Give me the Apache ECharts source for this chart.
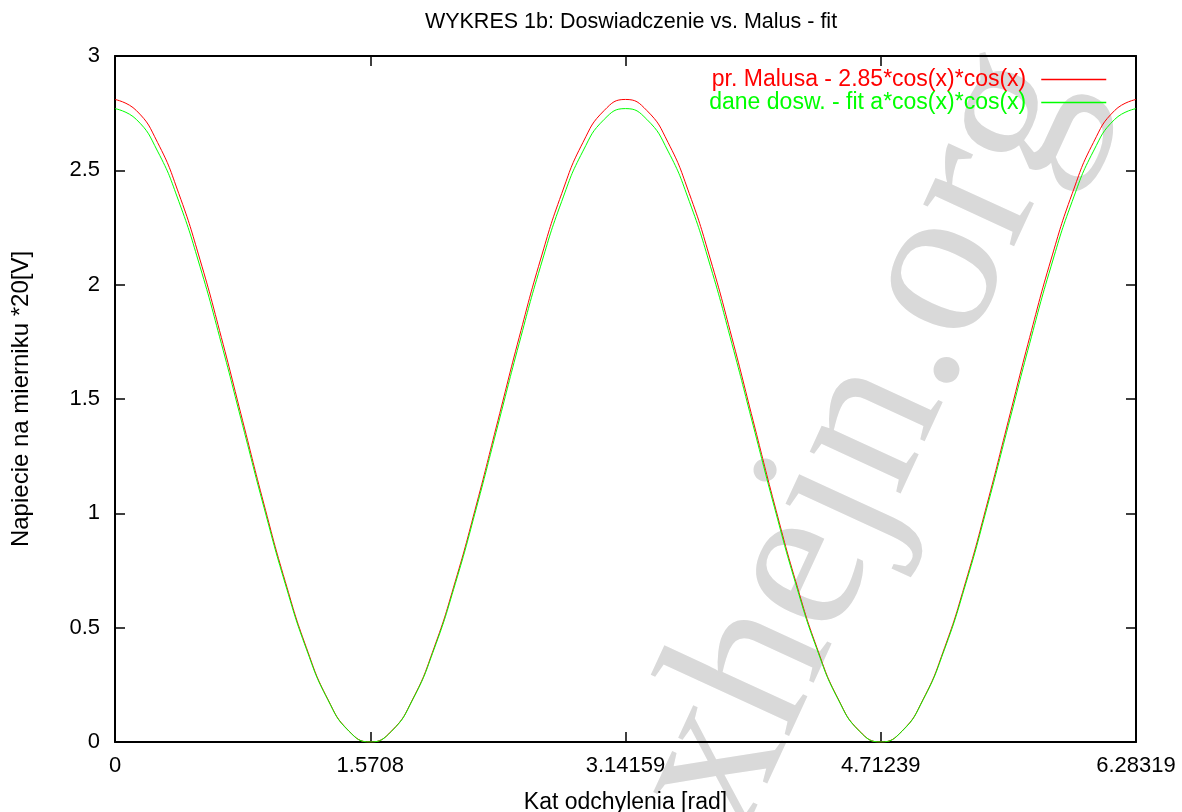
<!DOCTYPE html>
<html>
<head>
<meta charset="utf-8">
<script src="https://cdn.jsdelivr.net/npm/echarts@6/dist/echarts.min.js"></script>
<style>
  html, body { margin: 0; padding: 0; background: #fff; }
  #chart { width: 1182px; height: 812px; }
</style>
</head>
<body>
<div id="chart"></div>
<script>
  // katy [rad], co 7.5 stopnia
  const katy = [
    0, 0.1309, 0.2618, 0.3927, 0.5236, 0.6545, 0.7854, 0.9163, 1.0472, 1.1781, 1.3090, 1.4399,
    1.5708, 1.7017, 1.8326, 1.9635, 2.0944, 2.2253, 2.3562, 2.4871, 2.6180, 2.7489, 2.8798, 3.0107,
    3.1416, 3.2725, 3.4034, 3.5343, 3.6652, 3.7961, 3.9270, 4.0579, 4.1888, 4.3197, 4.4506, 4.5815,
    4.7124, 4.8433, 4.9742, 5.1051, 5.2360, 5.3669, 5.4978, 5.6287, 5.7596, 5.8905, 6.0214, 6.1523,
    6.2832
  ];
  // pr. Malusa (czerwona)
  const malus = [
    2.81, 2.762, 2.622, 2.398, 2.108, 1.769, 1.405, 1.041, 0.703, 0.412, 0.188, 0.048,
    0, 0.048, 0.188, 0.412, 0.703, 1.041, 1.405, 1.769, 2.108, 2.398, 2.622, 2.762,
    2.81, 2.762, 2.622, 2.398, 2.108, 1.769, 1.405, 1.041, 0.703, 0.412, 0.188, 0.048,
    0, 0.048, 0.188, 0.412, 0.703, 1.041, 1.405, 1.769, 2.108, 2.398, 2.622, 2.762,
    2.81
  ];
  // dane dosw. - fit (zielona)
  const fit = [
    2.77, 2.723, 2.584, 2.364, 2.078, 1.743, 1.385, 1.027, 0.693, 0.406, 0.186, 0.047,
    0, 0.047, 0.186, 0.406, 0.693, 1.027, 1.385, 1.743, 2.078, 2.364, 2.584, 2.723,
    2.77, 2.723, 2.584, 2.364, 2.078, 1.743, 1.385, 1.027, 0.693, 0.406, 0.186, 0.047,
    0, 0.047, 0.186, 0.406, 0.693, 1.027, 1.385, 1.743, 2.078, 2.364, 2.584, 2.723,
    2.77
  ];
  const xTicks = [0, 1.5708, 3.14159, 4.71239, 6.28319];
  const nazwy = ['pr. Malusa - 2.85*cos(x)*cos(x)', 'dane dosw. - fit a*cos(x)*cos(x)'];
  const kolory = ['#ff0000', '#00ff00'];

  const font = 'Liberation Sans, Arial, sans-serif';
  const chart = echarts.init(document.getElementById('chart'));

  const xBase = {
    type: 'value',
    min: 0,
    max: 6.28319,
    axisLine: { onZero: false, lineStyle: { color: '#000', width: 2 } },
    axisTick: { inside: true, length: 10, lineStyle: { color: '#000', width: 1.5 }, customValues: xTicks },
    splitLine: { show: false },
  };
  const yBase = {
    type: 'value',
    min: 0,
    max: 3,
    interval: 0.5,
    axisLine: { show: true, onZero: false, lineStyle: { color: '#000', width: 2 } },
    axisTick: { show: true, inside: true, length: 10, lineStyle: { color: '#000', width: 1.5 } },
    splitLine: { show: false },
  };

  chart.setOption({
    backgroundColor: '#fff',
    animation: false,
    title: {
      text: 'WYKRES 1b: Doswiadczenie vs. Malus - fit',
      left: 626,
      top: 6,
      textAlign: 'center',
      textStyle: { fontFamily: font, fontSize: 21.5, fontWeight: 'normal', color: '#000' },
    },
    legend: {
      orient: 'vertical',
      align: 'right',
      right: 70,
      top: 63,
      z: 10,
      itemGap: 0,
      itemWidth: 65,
      itemHeight: 12,
      itemStyle: { opacity: 0 },
      lineStyle: { width: 1.5 },
      textStyle: { fontFamily: font, fontSize: 23, lineHeight: 23, padding: [0, 10, 0, 0] },
      data: nazwy.map((n, i) => ({ name: n, textStyle: { color: kolory[i] } })),
    },
    grid: { left: 115, right: 46, top: 56, bottom: 70, outerBoundsMode: 'none' },
    xAxis: [
      Object.assign({}, xBase, {
        position: 'bottom',
        name: 'Kat odchylenia [rad]',
        nameLocation: 'middle',
        nameGap: 49,
        nameTextStyle: { fontFamily: font, fontSize: 23, color: '#000' },
        axisLabel: {
          customValues: xTicks,
          margin: 13,
          fontFamily: font,
          fontSize: 22,
          color: '#000',
          formatter: v => String(v),
        },
      }),
      Object.assign({}, xBase, { position: 'top', axisLabel: { show: false } }),
    ],
    yAxis: [
      Object.assign({}, yBase, {
        position: 'left',
        name: 'Napiecie na mierniku *20[V]',
        nameLocation: 'middle',
        nameGap: 82,
        nameTextStyle: { fontFamily: font, fontSize: 24, color: '#000' },
        axisLabel: { margin: 15, fontFamily: font, fontSize: 22, color: '#000' },
      }),
      Object.assign({}, yBase, { position: 'right', axisLabel: { show: false } }),
    ],
    graphic: [
      {
        type: 'text',
        x: 862,
        y: 440,
        rotation: 1.14,
        z: -1,
        silent: true,
        style: {
          text: 'xhejn.org',
          fontFamily: 'Liberation Serif, Times New Roman, serif',
          fontSize: 218,
          fill: '#d9d9d9',
          align: 'center',
          verticalAlign: 'middle',
        },
      },
    ],
    series: nazwy.map((n, i) => ({
      name: n,
      type: 'line',
      symbol: 'none',
      smooth: true,
      lineStyle: { color: kolory[i], width: 1 },
      itemStyle: { color: kolory[i] },
      data: katy.map((x, k) => [x, (i === 0 ? malus : fit)[k]]),
    })),
  });
</script>
</body>
</html>
